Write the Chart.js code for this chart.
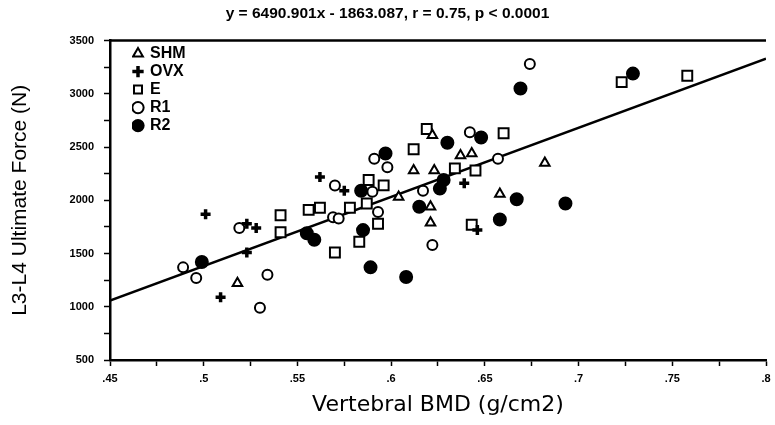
<!DOCTYPE html>
<html>
<head>
<meta charset="utf-8">
<script src="https://cdn.jsdelivr.net/npm/chart.js@4"></script>
<style>
  html, body { margin: 0; padding: 0; background: #fff; }
</style>
</head>
<body>
<canvas id="bmdChart" width="775" height="425"></canvas>
<script>
// group values: vertebral BMD (g/cm2) and L3-L4 ultimate force (N)
const shmBmd   = [0.518, 0.612, 0.623, 0.637, 0.643, 0.622, 0.682, 0.658, 0.621, 0.604, 0.621];
const shmForce = [1220, 2280, 2280, 2420, 2440, 2610, 2350, 2060, 1940, 2030, 1790];

const ovxBmd   = [0.501, 0.509, 0.523, 0.523, 0.528, 0.562, 0.575, 0.639, 0.646];
const ovxForce = [1870, 1090, 1510, 1780, 1740, 2220, 2090, 2160, 1720];

const eBmd   = [0.541, 0.541, 0.556, 0.562, 0.570, 0.583, 0.593, 0.588, 0.596, 0.587,
                0.578, 0.612, 0.619, 0.660, 0.634, 0.645, 0.643, 0.723, 0.758];
const eForce = [1860, 1700, 1910, 1930, 1510, 1610, 1780, 2190, 2140, 1970,
                1930, 2480, 2670, 2630, 2300, 2280, 1770, 3110, 3170];

const r1Bmd   = [0.489, 0.496, 0.530, 0.534, 0.519, 0.570, 0.569, 0.572, 0.590, 0.593,
                 0.591, 0.598, 0.642, 0.617, 0.622, 0.657, 0.674];
const r1Force = [1370, 1270, 990, 1300, 1740, 2140, 1840, 1830, 2080, 1890,
                 2390, 2310, 2640, 2090, 1580, 2390, 3280];

const r2Bmd   = [0.499, 0.555, 0.559, 0.585, 0.584, 0.589, 0.608, 0.597, 0.630, 0.648,
                 0.628, 0.626, 0.615, 0.658, 0.667, 0.693, 0.729, 0.669];
const r2Force = [1420, 1690, 1630, 1720, 2090, 1370, 1280, 2440, 2540, 2590,
                 2190, 2110, 1940, 1820, 2010, 1970, 3190, 3050];

// fitted line y = slope * x + intercept
const slope = 6490.901;
const intercept = -1863.087;
const fitRange = [0.45, 0.8];

const xTickLabels = [".45", ".5", ".55", ".6", ".65", ".7", ".75", ".8"];
const yTickLabels = ["500", "1000", "1500", "2000", "2500", "3000", "3500"];

const toPoints = (xs, ys) => xs.map((x, i) => ({ x, y: ys[i] }));

Chart.defaults.font.family = "'Liberation Sans', Arial, sans-serif";
Chart.defaults.color = "#000";

const markerSet = (label, xs, ys, style) => Object.assign({
  label,
  type: "scatter",
  data: toPoints(xs, ys),
  borderColor: "#000",
  backgroundColor: "#fff",
  borderWidth: 2,
  pointRadius: 5,
}, style);

// legend sits inside the plot, nudged away from the y axis
const legendPlacement = {
  id: "legendPlacement",
  afterLayout(chart) {
    chart.legend.left = chart.chartArea.left + 22;
    chart.legend.top = chart.chartArea.top + 3;
  },
};

// closing line along the top of the plot area
const topFrame = {
  id: "topFrame",
  afterDraw(chart) {
    const { ctx, chartArea } = chart;
    ctx.save();
    ctx.strokeStyle = "#000";
    ctx.lineWidth = 2.5;
    ctx.beginPath();
    ctx.moveTo(chartArea.left, chartArea.top);
    ctx.lineTo(chartArea.right, chartArea.top);
    ctx.stroke();
    ctx.restore();
  },
};

const config = {
  data: {
    datasets: [
      markerSet("SHM", shmBmd, shmForce, { pointStyle: "triangle", pointRadius: 5.5 }),
      markerSet("OVX", ovxBmd, ovxForce, { pointStyle: "cross", borderWidth: 3.5, pointRadius: 5 }),
      markerSet("E", eBmd, eForce, { pointStyle: "rect", pointRadius: 7 }),
      markerSet("R1", r1Bmd, r1Force, { pointStyle: "circle", pointRadius: 5 }),
      markerSet("R2", r2Bmd, r2Force, { pointStyle: "circle", pointRadius: 6, backgroundColor: "#000" }),
      {
        label: "fit",
        type: "line",
        data: fitRange.map((x) => ({ x, y: slope * x + intercept })),
        borderColor: "#000",
        borderWidth: 2.5,
        pointRadius: 0,
        fill: false,
      },
    ],
  },
  options: {
    responsive: false,
    animation: false,
    layout: { padding: 0 },
    plugins: {
      title: {
        display: true,
        text: "y = 6490.901x - 1863.087, r = 0.75, p < 0.0001",
        font: { size: 15.5, weight: "bold" },
        padding: { top: 4, bottom: 18 },
      },
      legend: {
        position: "chartArea",
        align: "start",
        labels: {
          usePointStyle: true,
          boxWidth: 8,
          boxHeight: 8,
          padding: 2,
          font: { size: 16, weight: "bold" },
          filter: (item) => item.text !== "fit",
        },
      },
      tooltip: { enabled: false },
    },
    scales: {
      x: {
        type: "linear",
        min: 0.45,
        max: 0.8,
        title: {
          display: true,
          text: "Vertebral BMD (g/cm2)",
          font: { family: "'DejaVu Sans', sans-serif", size: 22 },
          padding: { top: 0, bottom: 7 },
        },
        ticks: {
          stepSize: 0.025,
          autoSkip: false,
          maxRotation: 0,
          padding: 6,
          font: { size: 11, weight: "bold" },
          callback: (value) => {
            const i = Math.round((value - 0.45) / 0.025);
            return i % 2 === 0 ? xTickLabels[i / 2] : "";
          },
        },
        grid: { drawOnChartArea: false, tickLength: 6, tickWidth: 1.5, tickColor: "#000" },
        border: { color: "#000", width: 2.5 },
        afterFit: (scale) => {
          scale.height = 65;
          scale.paddingLeft = 0;
          scale.paddingRight = 0;
        },
      },
      y: {
        min: 500,
        max: 3500,
        title: {
          display: true,
          text: "L3-L4 Ultimate Force (N)",
          font: { size: 21 },
          padding: { top: 8, bottom: 0 },
        },
        ticks: {
          stepSize: 250,
          autoSkip: false,
          padding: 10,
          font: { size: 11, weight: "bold" },
          callback: (value) => {
            const i = Math.round((value - 500) / 250);
            return i % 2 === 0 ? yTickLabels[i / 2] : "";
          },
        },
        grid: { drawOnChartArea: false, tickLength: 6, tickWidth: 1.5, tickColor: "#000" },
        border: { color: "#000", width: 2.5 },
        afterFit: (scale) => {
          scale.width = 110;
        },
      },
    },
  },
  plugins: [legendPlacement, topFrame],
};

new Chart(document.getElementById("bmdChart"), config);
</script>
</body>
</html>
